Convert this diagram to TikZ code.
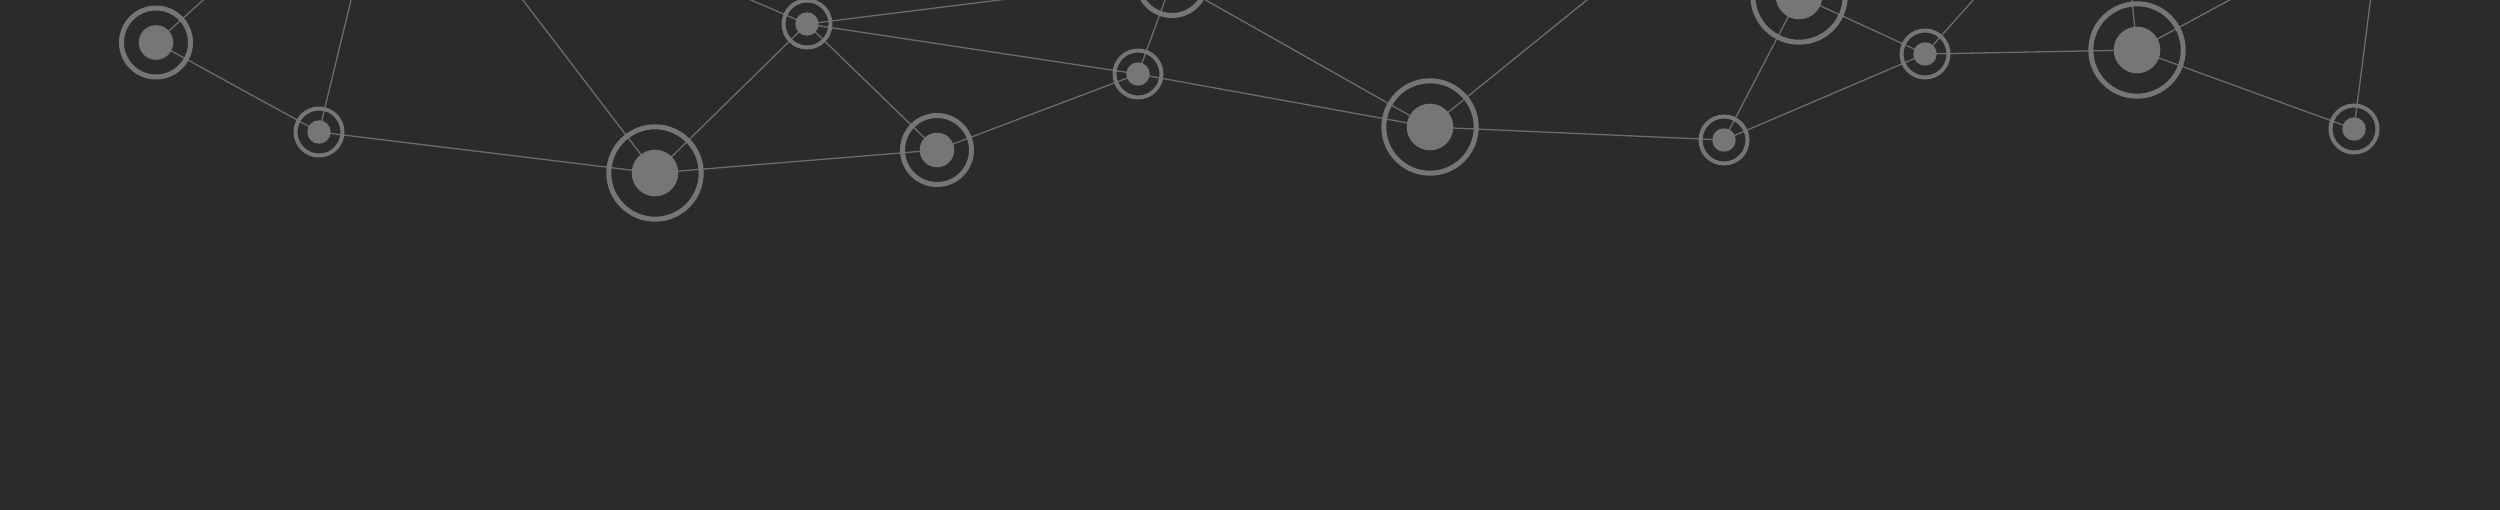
\documentclass[tikz,border=0pt]{standalone}
\pgfdeclarelayer{bg}
\pgfdeclarelayer{edges}
\pgfsetlayers{bg,edges,main}
\definecolor{bgcol}{HTML}{2B2B2B}
\definecolor{nodecol}{HTML}{767676}
\definecolor{edgecol}{HTML}{6C6C6C}
\tikzset{
  netnode/.style={circle, draw=nodecol, fill=none, inner sep=0pt, outer sep=0pt},
  smallnode/.style={netnode, line width=4pt, minimum size=47pt,
    path picture={\fill[nodecol] (path picture bounding box.center) circle (11.7pt);}},
  mednode/.style={netnode, line width=5pt, minimum size=69pt,
    path picture={\fill[nodecol] (path picture bounding box.center) circle (17.3pt);}},
  largenode/.style={netnode, line width=5pt, minimum size=92.4pt,
    path picture={\fill[nodecol] (path picture bounding box.center) circle (23.3pt);}},
  edge/.style={draw=edgecol, line width=1.3pt},
}
\begin{document}
\begin{tikzpicture}[x=1pt,y=-1pt]
\useasboundingbox (0,0) rectangle (2500,509);
\begin{pgfonlayer}{bg}
\fill[bgcol] (-3,-3) rectangle (2503,512);
\end{pgfonlayer}
\clip (-3,-3) rectangle (2503,512);
% nodes
\node[mednode]   (A) at (156,42.5) {};
\node[smallnode] (B) at (319,132) {};
\node[largenode] (C) at (655,173) {};
\node[smallnode] (D) at (807,24) {};
\node[mednode]   (E) at (937,150) {};
\node[smallnode] (F) at (1138,74) {};
\node[mednode]   (G) at (1172,-19) {};
\node[largenode] (H) at (1430,127) {};
\node[largenode] (I) at (1799,-4) {};
\node[smallnode] (J) at (1925,54) {};
\node[smallnode] (K) at (1724,140) {};
\node[largenode] (L) at (2137,50) {};
\node[smallnode] (M) at (2354,129) {};
% off-canvas ends
\coordinate (oA) at (250,-42);
\coordinate (oB) at (362,-45);
\coordinate (oC) at (490,-43);
\coordinate (oD1) at (690,-26);
\coordinate (oD2) at (1200,-25);
\coordinate (oH) at (1640,-43);
\coordinate (oJ) at (2000,-30);
\coordinate (oL1) at (2130,-20);
\coordinate (oL2) at (2300,-38);
\coordinate (oM) at (2373,-20);
\begin{pgfonlayer}{edges}
\draw[edge] (A.center) -- (oA);
\draw[edge] (A.center) -- (B.center);
\draw[edge] (B.center) -- (oB);
\draw[edge] (B.center) -- (C.center);
\draw[edge] (C.center) -- (oC);
\draw[edge] (C.center) -- (D.center);
\draw[edge] (C.center) -- (E.center);
\draw[edge] (D.center) -- (oD1);
\draw[edge] (D.center) -- (oD2);
\draw[edge] (D.center) -- (F.center);
\draw[edge] (D.center) -- (E.center);
\draw[edge] (E.center) -- (F.center);
\draw[edge] (F.center) -- (G.center);
\draw[edge] (F.center) -- (H.center);
\draw[edge] (G.center) -- (H.center);
\draw[edge] (H.center) -- (oH);
\draw[edge] (H.center) -- (K.center);
\draw[edge] (I.center) -- (K.center);
\draw[edge] (I.center) -- (J.center);
\draw[edge] (K.center) -- (J.center);
\draw[edge] (J.center) -- (oJ);
\draw[edge] (J.center) -- (L.center);
\draw[edge] (L.center) -- (oL1);
\draw[edge] (L.center) -- (oL2);
\draw[edge] (L.center) -- (M.center);
\draw[edge] (M.center) -- (oM);
\end{pgfonlayer}
\end{tikzpicture}
\end{document}
